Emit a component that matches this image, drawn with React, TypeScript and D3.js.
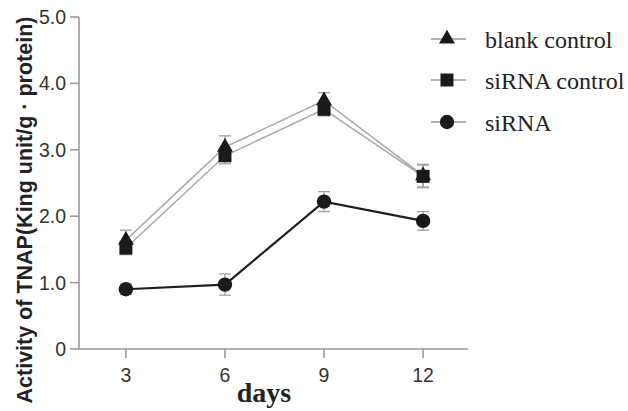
import React from "react";
import * as d3 from "d3";

const days = [3, 6, 9, 12];
const blankControl = [1.64, 3.04, 3.74, 2.61];
const blankControlErr = [0.15, 0.17, 0.12, 0.17];
const sirnaControl = [1.52, 2.91, 3.61, 2.6];
const sirnaControlErr = [0.1, 0.12, 0.1, 0.17];
const sirna = [0.9, 0.97, 2.22, 1.93];
const sirnaErr = [0.08, 0.16, 0.15, 0.14];
const yTicks = [0, 1, 2, 3, 4, 5];
const seriesNames = ["blank control", "siRNA control", "siRNA"];

const W = 628;
const H = 411;

export default function App() {
  const x = d3.scaleLinear().domain([1.58, 13.36]).range([79, 468]);
  const y = d3.scaleLinear().domain([0, 5]).range([349, 17]);

  const series = [
    { name: seriesNames[0], vals: blankControl, err: blankControlErr, shape: "tri", stroke: "#a8a8a8", sw: 1.5 },
    { name: seriesNames[1], vals: sirnaControl, err: sirnaControlErr, shape: "sq", stroke: "#a8a8a8", sw: 1.5 },
    { name: seriesNames[2], vals: sirna, err: sirnaErr, shape: "circ", stroke: "#1e1e1e", sw: 2.2 },
  ];

  const line = d3
    .line<[number, number]>()
    .x((d) => x(d[0]))
    .y((d) => y(d[1]));

  const marker = (shape: string, cx: number, cy: number, key: string) => {
    const fill = "#1a1a1a";
    if (shape === "tri") {
      const p = d3.symbol().type(d3.symbolTriangle).size(110)();
      return <path key={key} d={p || ""} transform={`translate(${cx},${cy})`} fill={fill} />;
    }
    if (shape === "sq") {
      return <rect key={key} x={cx - 6.5} y={cy - 6.5} width={13} height={13} fill={fill} />;
    }
    return <circle key={key} cx={cx} cy={cy} r={7.2} fill={fill} />;
  };

  const legendRows = [39, 80, 122];

  return (
    <div style={{ position: "fixed", left: 0, top: 0 }}>
      <svg width={W} height={H} viewBox={`0 0 ${W} ${H}`} style={{ display: "block", background: "#fff" }}>
        {/* axes */}
        <g stroke="#9a9a9a" strokeWidth={1.6} fill="none">
          <line x1={x.range()[0]} x2={x.range()[0]} y1={y(0)} y2={y(5)} />
          <line x1={x.range()[0]} x2={x.range()[1]} y1={y(0)} y2={y(0)} />
          {yTicks.map((t) => (
            <line key={"yt" + t} x1={x.range()[0] - 9} x2={x.range()[0]} y1={y(t)} y2={y(t)} />
          ))}
          {days.map((d) => (
            <line key={"xt" + d} x1={x(d)} x2={x(d)} y1={y(0)} y2={y(0) + 9} />
          ))}
        </g>
        <g fontFamily="'Liberation Sans', Arial, sans-serif" fontSize={19.5} fill="#333">
          {yTicks.map((t) => (
            <text key={"yl" + t} x={66} y={y(t) + 7} textAnchor="end">
              {t === 0 ? "0" : t.toFixed(1)}
            </text>
          ))}
          {days.map((d) => (
            <text key={"xl" + d} x={x(d)} y={382} textAnchor="middle">
              {d}
            </text>
          ))}
        </g>
        <text
          transform={`translate(32,210) rotate(-90)`}
          textAnchor="middle"
          fontFamily="'Liberation Sans', Arial, sans-serif"
          fontWeight="bold"
          fontSize={21.5}
          fill="#222"
        >
          Activity of TNAP(King unit/g · protein)
        </text>
        <text
          x={264}
          y={402}
          textAnchor="middle"
          fontFamily="'Liberation Serif', 'Times New Roman', serif"
          fontWeight="bold"
          fontSize={28}
          fill="#222"
        >
          days
        </text>

        {/* error bars */}
        {series.map((s) => (
          <g key={"e" + s.name} stroke="#a0a0a0" strokeWidth={1.3}>
            {days.map((d, i) => (
              <g key={i}>
                <line x1={x(d)} x2={x(d)} y1={y(s.vals[i] - s.err[i])} y2={y(s.vals[i] + s.err[i])} />
                <line x1={x(d) - 6} x2={x(d) + 6} y1={y(s.vals[i] + s.err[i])} y2={y(s.vals[i] + s.err[i])} />
                <line x1={x(d) - 6} x2={x(d) + 6} y1={y(s.vals[i] - s.err[i])} y2={y(s.vals[i] - s.err[i])} />
              </g>
            ))}
          </g>
        ))}

        {/* lines */}
        {series.map((s) => (
          <path
            key={"l" + s.name}
            d={line(days.map((d, i) => [d, s.vals[i]] as [number, number])) || ""}
            fill="none"
            stroke={s.stroke}
            strokeWidth={s.sw}
          />
        ))}

        {/* markers */}
        {series.map((s) => (
          <g key={"m" + s.name}>{days.map((d, i) => marker(s.shape, x(d), y(s.vals[i]), s.name + i))}</g>
        ))}

        {/* legend */}
        {series.map((s, i) => (
          <g key={"lg" + s.name}>
            <line x1={431} x2={466} y1={legendRows[i]} y2={legendRows[i]} stroke="#9a9a9a" strokeWidth={1.4} />
            {marker(s.shape, 447, legendRows[i], "lgm" + i)}
            <text
              x={485}
              y={legendRows[i] + 9}
              fontFamily="'Liberation Serif', 'Times New Roman', serif"
              fontSize={24}
              fill="#222"
            >
              {s.name}
            </text>
          </g>
        ))}
      </svg>
    </div>
  );
}
